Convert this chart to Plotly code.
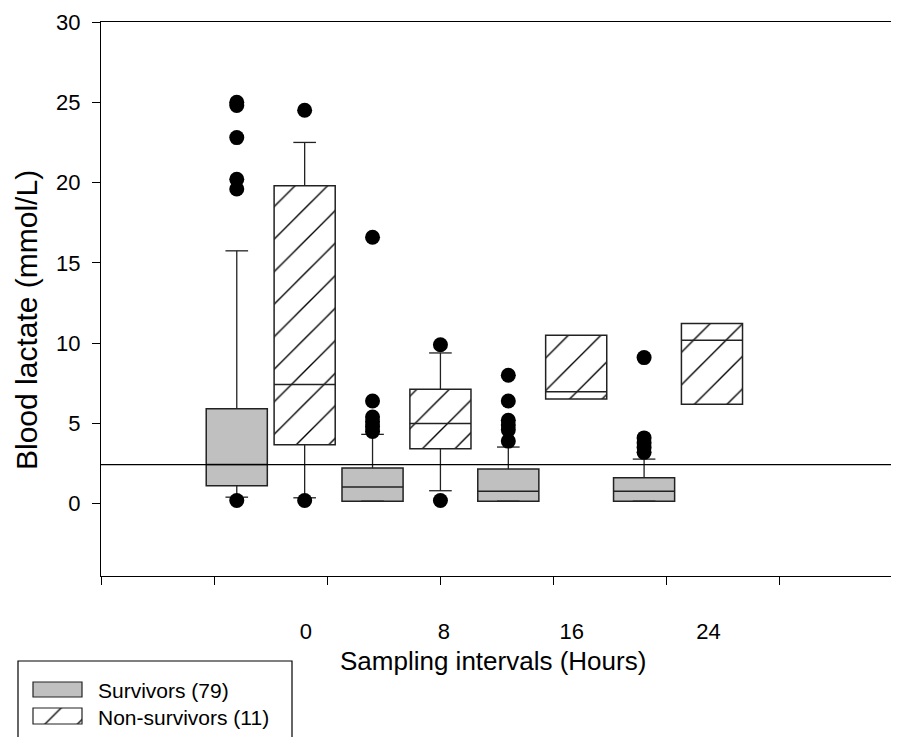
import plotly.graph_objects as go

# ---------------- data ----------------
hours = ["0", "8", "16", "24"]
groups = ["Survivors (79)", "Non-survivors (11)"]

# Survivors
s_q1 = [1.12, 0.16, 0.16, 0.16]
s_med = [2.45, 1.04, 0.77, 0.77]
s_q3 = [5.92, 2.22, 2.16, 1.62]
s_lo = [0.41, 0.16, 0.16, 0.16]
s_hi = [15.75, 4.32, 3.53, 2.78]
s_out = [
    [25.0, 24.8, 22.8, 20.2, 19.6, 0.2],
    [16.6, 6.4, 5.4, 5.1, 4.8, 4.5],
    [8.0, 6.4, 5.2, 4.9, 4.6, 3.9],
    [9.1, 4.1, 3.8, 3.5, 3.2],
]

# Non-survivors
n_q1 = [3.68, 3.43, 6.52, 6.19]
n_med = [7.42, 4.99, 6.98, 10.18]
n_q3 = [19.8, 7.13, 10.49, 11.22]
n_lo = [0.37, 0.81, None, None]
n_hi = [22.5, 9.39, None, None]
n_out = [
    [24.5, 0.2],
    [9.9, 0.2],
    [],
    [],
]

threshold = 2.43
y_ticks = [0, 5, 10, 15, 20, 25, 30]
label_pos = [1.81, 3.03, 4.16, 5.37]
x_title = "Sampling intervals (Hours)"
y_title = "Blood lactate (mmol/L)"

# ---------------- layout helpers ----------------
W, H = 891, 729          # page adds an 8px body margin
OFF = 8


def X(px):
    return (px - OFF) / W


def Y(py):
    return 1 - (py - OFF) / H


BOXW = 0.54
CAPW = 0.2
FONT = "Arial, Liberation Sans, sans-serif"
GREY = "#c0c0c0"
HATCH = dict(shape="/", fgcolor="black", bgcolor="white", fgopacity=1, size=23,
             solidity=0.06, fillmode="replace")

s_x = [1.2 + 1.2 * i for i in range(len(hours))]
n_x = [1.8 + 1.2 * i for i in range(len(hours))]

fig = go.Figure()

fig.add_trace(go.Bar(
    x=s_x, y=[b - a for a, b in zip(s_q1, s_q3)], base=s_q1, width=BOXW,
    name=groups[0], showlegend=False,
    marker=dict(color=GREY, line=dict(color="#222", width=1.5)),
    hoverinfo="skip",
))
fig.add_trace(go.Bar(
    x=n_x, y=[b - a for a, b in zip(n_q1, n_q3)], base=n_q1, width=BOXW,
    name=groups[1], showlegend=False,
    marker=dict(color="white", line=dict(color="#222", width=1.5), pattern=HATCH),
    hoverinfo="skip",
))


def segs(xs, q1, med, q3, lo, hi):
    mx, my, wx, wy = [], [], [], []
    for x, a, m, b, l, h in zip(xs, q1, med, q3, lo, hi):
        mx += [x - BOXW / 2, x + BOXW / 2, None]
        my += [m, m, None]
        if h is not None:
            wx += [x, x, None, x - CAPW / 2, x + CAPW / 2, None]
            wy += [b, h, None, h, h, None]
        if l is not None:
            wx += [x, x, None, x - CAPW / 2, x + CAPW / 2, None]
            wy += [a, l, None, l, l, None]
    return mx, my, wx, wy


for xs, q1, med, q3, lo, hi, outs in [
    (s_x, s_q1, s_med, s_q3, s_lo, s_hi, s_out),
    (n_x, n_q1, n_med, n_q3, n_lo, n_hi, n_out),
]:
    mx, my, wx, wy = segs(xs, q1, med, q3, lo, hi)
    fig.add_trace(go.Scatter(x=wx, y=wy, mode="lines", line=dict(color="#222", width=1.3),
                             showlegend=False, hoverinfo="skip"))
    fig.add_trace(go.Scatter(x=mx, y=my, mode="lines", line=dict(color="#222", width=1.5),
                             showlegend=False, hoverinfo="skip"))
    ox, oy = [], []
    for x, o in zip(xs, outs):
        ox += [x] * len(o)
        oy += o
    fig.add_trace(go.Scatter(x=ox, y=oy, mode="markers",
                             marker=dict(color="black", size=15, line=dict(width=0)),
                             showlegend=False, hoverinfo="skip"))

# invisible trace for the label axis
fig.add_trace(go.Scatter(x=[0, 7], y=[None, None], xaxis="x2", mode="markers",
                         showlegend=False, hoverinfo="skip"))

# ----- legend swatches on a small helper axis (pixel units) -----
fig.add_trace(go.Bar(x=[49], y=[-689.5], base=[33], width=[15], orientation="h",
                     xaxis="x3", yaxis="y3", showlegend=False, hoverinfo="skip",
                     marker=dict(color=GREY, line=dict(color="#222", width=1.2))))
fig.add_trace(go.Bar(x=[49], y=[-716], base=[33], width=[16], orientation="h",
                     xaxis="x3", yaxis="y3", showlegend=False, hoverinfo="skip",
                     marker=dict(color="white", line=dict(color="#222", width=1.2),
                                 pattern=HATCH)))

fig.add_shape(type="line", xref="x domain", yref="y", x0=0, x1=1,
              y0=threshold, y1=threshold, line=dict(color="black", width=1.3))
fig.add_shape(type="rect", xref="paper", yref="paper", x0=X(18), x1=X(292),
              y0=Y(745), y1=Y(661), line=dict(color="black", width=1.2))

annos = [
    dict(text=x_title, x=X(493), y=Y(661), font=dict(size=26), textangle=0),
    dict(text=y_title, x=X(26), y=Y(320), font=dict(size=30), textangle=-90),
]
fig.update_layout(annotations=[
    dict(xref="paper", yref="paper", xanchor="center", yanchor="middle",
         showarrow=False, **a) for a in annos
] + [
    dict(xref="paper", yref="paper", xanchor="left", yanchor="middle", showarrow=False,
         text=groups[0], x=X(96), y=Y(690), font=dict(size=21)),
    dict(xref="paper", yref="paper", xanchor="left", yanchor="middle", showarrow=False,
         text=groups[1], x=X(96), y=Y(717), font=dict(size=21)),
])

fig.update_layout(
    width=W, height=H,
    margin=dict(l=0, r=0, t=0, b=0),
    paper_bgcolor="white", plot_bgcolor="rgba(0,0,0,0)",
    font=dict(family=FONT, color="black", size=22),
    barmode="overlay",
    showlegend=False,
    xaxis=dict(domain=[X(101), X(893)], range=[0, 7], tickvals=list(range(8)),
               ticktext=[""] * 8, automargin=False,
               ticks="outside", ticklen=8, tickcolor="black", tickwidth=1.2,
               showline=True, linecolor="black", linewidth=1.3, mirror=True,
               showgrid=False, zeroline=False),
    xaxis2=dict(range=[0, 7], overlaying="x", anchor="y", side="bottom",
                tickvals=label_pos, ticktext=hours, ticks="", automargin=False,
                showline=False, showgrid=False, zeroline=False,
                ticklabelstandoff=40, tickfont=dict(size=22)),
    yaxis=dict(domain=[Y(576), Y(22)], range=[-4.5, 30], tickvals=y_ticks,
               automargin=False,
               ticks="outside", ticklen=8, tickcolor="black", tickwidth=1.2,
               showline=True, linecolor="black", linewidth=1.3, mirror=True,
               showgrid=False, zeroline=False, tickfont=dict(size=22),
               ticklabelstandoff=7),
    xaxis3=dict(domain=[X(28), X(88)], range=[28, 88], anchor="y3", visible=False,
                fixedrange=True),
    yaxis3=dict(domain=[Y(730), Y(676)], range=[-730, -676], anchor="x3", visible=False,
                fixedrange=True),
)

fig.write_html("out.html")
